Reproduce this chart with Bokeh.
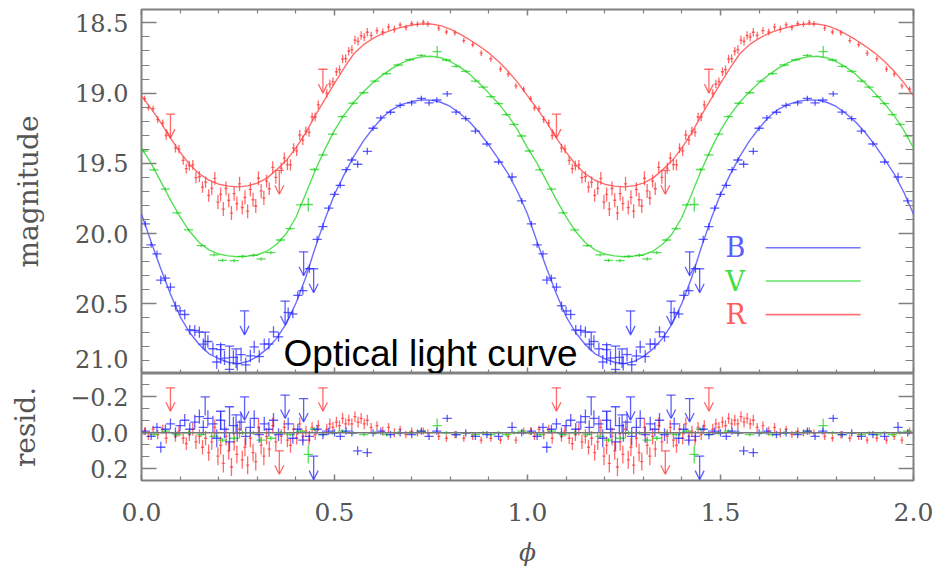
import numpy as np
from bokeh.plotting import figure
from bokeh.layouts import column
from bokeh.models import (Range1d, LinearAxis, FixedTicker, CustomJSTickFormatter,
                          ColumnDataSource, Label, Arrow, OpenHead, Span)
from bokeh.embed import file_html
from bokeh.resources import INLINE

# ---------------- data (one phase cycle, shown twice) ----------------
model_phase = [0.0, 0.025, 0.05, 0.075, 0.1, 0.125, 0.15, 0.175, 0.2, 0.225, 0.25,
               0.275, 0.3, 0.325, 0.35, 0.375, 0.4, 0.425, 0.45, 0.475, 0.5,
               0.525, 0.55, 0.575, 0.6, 0.625, 0.65, 0.675, 0.7, 0.725, 0.75,
               0.775, 0.8, 0.825, 0.85, 0.875, 0.9, 0.925, 0.95, 0.975, 1.0]

R_model = [19.02, 19.11, 19.21, 19.32, 19.42, 19.51, 19.575, 19.62, 19.648, 19.662, 19.667,
           19.66, 19.64, 19.605, 19.545, 19.48, 19.39, 19.285, 19.16, 19.045, 18.93,
           18.82, 18.72, 18.655, 18.61, 18.575, 18.55, 18.53, 18.515, 18.507, 18.508,
           18.52, 18.545, 18.58, 18.62, 18.665, 18.715, 18.775, 18.845, 18.925, 19.02]
V_model = [19.39, 19.50, 19.63, 19.76, 19.88, 19.985, 20.065, 20.115, 20.145, 20.158, 20.164,
           20.16, 20.15, 20.125, 20.075, 20.0, 19.885, 19.72, 19.55, 19.40, 19.265,
           19.155, 19.065, 18.99, 18.925, 18.87, 18.822, 18.785, 18.757, 18.742, 18.738,
           18.748, 18.775, 18.815, 18.865, 18.93, 19.0, 19.075, 19.16, 19.265, 19.39]
B_model = [19.86, 20.06, 20.25, 20.43, 20.59, 20.705, 20.79, 20.855, 20.89, 20.915, 20.925,
           20.91, 20.875, 20.82, 20.745, 20.64, 20.495, 20.315, 20.10, 19.90, 19.72,
           19.58, 19.45, 19.34, 19.25, 19.17, 19.115, 19.08, 19.06, 19.048, 19.05,
           19.065, 19.095, 19.145, 19.205, 19.28, 19.37, 19.47, 19.575, 19.705, 19.86]

R_phase = [0.008, 0.018, 0.030, 0.042, 0.055, 0.064, 0.088, 0.097, 0.108, 0.116, 0.124, 0.133,
           0.141, 0.150, 0.158, 0.166, 0.174, 0.182, 0.190, 0.198, 0.205, 0.212, 0.219, 0.226,
           0.233, 0.240, 0.247, 0.254, 0.261, 0.268, 0.275, 0.282, 0.289, 0.296, 0.303, 0.310,
           0.317, 0.324, 0.331, 0.340, 0.348, 0.362, 0.370, 0.378, 0.386, 0.394, 0.402, 0.410,
           0.418, 0.426, 0.434, 0.442, 0.450, 0.458, 0.480, 0.488, 0.496, 0.505, 0.513, 0.521,
           0.529, 0.537, 0.545, 0.553, 0.561, 0.569, 0.577, 0.585, 0.595, 0.610, 0.625, 0.640,
           0.655, 0.670, 0.685, 0.700, 0.715, 0.730, 0.742, 0.770, 0.790, 0.812, 0.835, 0.858,
           0.880, 0.905, 0.930, 0.950, 0.970, 0.990]
R_resid = [-0.01, 0.02, -0.02, 0.01, -0.02, 0.03, 0.02, -0.01, 0.03, 0.06, 0.01, -0.02,
           0.05, 0.02, 0.08, 0.03, 0.11, 0.05, -0.03, 0.13, 0.07, 0.17, 0.02, 0.10,
           0.19, 0.05, 0.12, -0.02, 0.15, 0.08, 0.18, 0.03, 0.11, 0.16, -0.03, 0.07,
           0.13, 0.02, 0.09, -0.04, 0.05, 0.02, -0.03, 0.04, 0.07, -0.02, 0.03, -0.05,
           0.02, -0.01, 0.04, -0.03, 0.01, -0.04, -0.02, -0.05, -0.03, -0.06, -0.04, -0.08,
           -0.05, -0.07, -0.05, -0.09, -0.06, -0.08, -0.05, -0.07, -0.03, -0.04, -0.01, -0.03,
           0.00, -0.02, 0.01, -0.01, 0.00, -0.01, 0.00, 0.02, 0.03, 0.01, 0.03, 0.02,
           0.04, 0.03, 0.04, 0.02, 0.04, -0.01]
R_err = [0.02, 0.02, 0.02, 0.025, 0.025, 0.03, 0.03, 0.03, 0.03, 0.035, 0.035, 0.035,
         0.04, 0.04, 0.04, 0.04, 0.045, 0.045, 0.045, 0.05, 0.05, 0.05, 0.05, 0.05,
         0.05, 0.05, 0.05, 0.05, 0.05, 0.05, 0.05, 0.05, 0.05, 0.05, 0.05, 0.05,
         0.05, 0.045, 0.045, 0.045, 0.045, 0.04, 0.04, 0.04, 0.04, 0.035, 0.035, 0.035,
         0.035, 0.03, 0.03, 0.03, 0.03, 0.03, 0.03, 0.03, 0.03, 0.03, 0.03, 0.03,
         0.03, 0.03, 0.03, 0.03, 0.03, 0.03, 0.03, 0.03, 0.025, 0.025, 0.025, 0.025,
         0.025, 0.02, 0.02, 0.02, 0.02, 0.02, 0.02, 0.02, 0.02, 0.02, 0.02, 0.02,
         0.02, 0.02, 0.02, 0.02, 0.02, 0.02]
R_xerr = 0.004
R_lim_phase = [0.075, 0.357, 0.470]
R_lim_mag = [19.15, 19.55, 18.83]
R_lim_resid = [-0.25, 0.10, -0.25]

V_phase = [0.005, 0.032, 0.062, 0.092, 0.122, 0.155, 0.188, 0.210, 0.240, 0.262, 0.290, 0.310,
           0.335, 0.360, 0.385, 0.412, 0.432, 0.448, 0.470, 0.495, 0.520, 0.548, 0.576, 0.605,
           0.635, 0.665, 0.695, 0.725, 0.766, 0.790, 0.815, 0.840, 0.865, 0.885, 0.905, 0.925,
           0.945, 0.965, 0.985]
V_resid = [0.00, 0.01, -0.01, 0.01, 0.00, 0.01, 0.02, 0.04, 0.03, 0.00, 0.00, 0.04,
           0.03, 0.00, 0.01, -0.01, 0.12, -0.02, 0.01, 0.00, -0.01, 0.00, 0.01, 0.00,
           0.01, 0.00, 0.00, -0.01, -0.04, 0.00, 0.01, 0.00, 0.01, 0.00, 0.01, 0.00,
           0.01, 0.00, -0.01]
V_err = [0.01, 0.01, 0.01, 0.01, 0.01, 0.01, 0.012, 0.012, 0.012, 0.012, 0.012, 0.012,
         0.012, 0.01, 0.01, 0.01, 0.05, 0.01, 0.01, 0.01, 0.01, 0.01, 0.01, 0.01,
         0.01, 0.01, 0.01, 0.01, 0.04, 0.01, 0.01, 0.01, 0.01, 0.01, 0.01, 0.01,
         0.01, 0.01, 0.01]
V_xerr = 0.012

B_phase = [0.010, 0.025, 0.040, 0.050, 0.062, 0.075, 0.088, 0.100, 0.112, 0.125, 0.138, 0.150,
           0.160, 0.172, 0.185, 0.195, 0.205, 0.215, 0.228, 0.238, 0.248, 0.258, 0.270, 0.282,
           0.292, 0.305, 0.318, 0.330, 0.342, 0.355, 0.380, 0.392, 0.405, 0.418, 0.435, 0.455,
           0.470, 0.485, 0.500, 0.515, 0.530, 0.545, 0.560, 0.585, 0.600, 0.620, 0.645, 0.670,
           0.700, 0.725, 0.745, 0.765, 0.792, 0.815, 0.840, 0.865, 0.895, 0.925, 0.960, 0.985]
B_resid = [-0.01, 0.02, -0.03, 0.08, -0.02, -0.05, 0.00, -0.04, -0.07, -0.02, -0.06, -0.09,
           -0.03, -0.08, -0.05, 0.03, -0.07, -0.02, 0.05, -0.04, 0.00, -0.06, 0.02, -0.03,
           -0.08, 0.01, -0.05, -0.02, -0.07, 0.01, -0.05, 0.03, -0.02, 0.04, 0.02, -0.02,
           0.01, -0.01, 0.00, 0.02, -0.01, 0.00, 0.10, 0.11, 0.00, -0.01, 0.01, 0.00,
           0.01, -0.01, 0.02, -0.01, -0.08, 0.01, 0.00, 0.02, 0.01, 0.02, -0.03, 0.00]
B_err = [0.02, 0.02, 0.025, 0.03, 0.025, 0.03, 0.03, 0.03, 0.035, 0.035, 0.04, 0.04,
         0.04, 0.045, 0.045, 0.05, 0.05, 0.05, 0.05, 0.05, 0.05, 0.05, 0.05, 0.045,
         0.045, 0.045, 0.04, 0.04, 0.04, 0.035, 0.035, 0.03, 0.03, 0.03, 0.03, 0.025,
         0.025, 0.02, 0.02, 0.02, 0.02, 0.02, 0.025, 0.025, 0.02, 0.02, 0.02, 0.02,
         0.02, 0.02, 0.02, 0.02, 0.02, 0.02, 0.02, 0.02, 0.02, 0.02, 0.03, 0.02]
B_xerr = 0.012
B_lim_phase = [0.267, 0.372, 0.420, 0.446]
B_lim_mag = [20.55, 20.48, 20.13, 20.25]
B_lim_resid = [-0.20, -0.21, -0.19, 0.13]
B_T_phase = [0.165, 0.205, 0.228, 0.245]
B_T_mag = [20.70, 20.79, 20.80, 20.82]
B_T_resid = [-0.20, -0.12, -0.145, -0.10]

x_ticks = [0.0, 0.5, 1.0, 1.5, 2.0]
mag_ticks = [18.5, 19.0, 19.5, 20.0, 20.5, 21.0]
resid_ticks = [-0.2, 0.0, 0.2]
band_names = ["B", "V", "R"]

# ---------------- styling ----------------
GRAY = "#808080"
TXT = "#555555"
SERIF = "DejaVu Serif"
PT = {"B": "#2a2aff", "V": "#22d322", "R": "#ff3a3a"}
LN = {"B": "#5c5cff", "V": "#44dd44", "R": "#ff5c5c"}

fmt = CustomJSTickFormatter(code="return (tick < -1e-9 ? '\\u2212' : '') + Math.abs(tick).toFixed(1);")
blank = CustomJSTickFormatter(code="return '';")
x_minor = [round(0.1 * i, 2) for i in range(21) if i % 5]
mag_minor = [round(18.4 + 0.1 * i, 2) for i in range(27)]
resid_minor = [round(-0.2 + i * 0.2 / 3, 4) for i in range(-2, 7) if i % 3]


def make_axis(ticks, minor, major_in, minor_in, labels, size="24px", label=None, lstand=0):
    ax = LinearAxis(ticker=FixedTicker(ticks=ticks, minor_ticks=minor),
                    formatter=fmt if labels else blank)
    ax.axis_line_color = None
    ax.major_tick_line_color = GRAY
    ax.minor_tick_line_color = GRAY
    ax.major_tick_line_width = 1.5
    ax.minor_tick_line_width = 1.2
    ax.major_tick_in = major_in
    ax.major_tick_out = 0
    ax.minor_tick_in = minor_in
    ax.minor_tick_out = 0
    if labels:
        ax.major_label_text_font = SERIF
        ax.major_label_text_font_size = size
        ax.major_label_text_color = TXT
    else:
        ax.major_label_text_font_size = "1px"
        ax.major_label_standoff = 0
    if label is not None:
        ax.axis_label = label
        ax.axis_label_text_font = SERIF
        ax.axis_label_text_font_style = "normal"
        ax.axis_label_text_font_size = "28px"
        ax.axis_label_text_color = TXT
        ax.axis_label_standoff = lstand
    return ax


xr = Range1d(0, 2)
common = dict(frame_width=772, x_range=xr, x_axis_location=None, y_axis_location=None,
              output_backend="svg", toolbar_location=None,
              min_border_left=141, min_border_right=24)

top = figure(frame_height=364, y_range=Range1d(20.995, 18.405),
             min_border_top=9, min_border_bottom=0, **common)
bot = figure(frame_height=107, y_range=Range1d(0.265, -0.33),
             min_border_top=0, min_border_bottom=0, **common)

for p in (top, bot):
    p.outline_line_color = GRAY
    p.outline_line_width = 2
    p.grid.visible = False

# top panel: tick marks on all four sides; numbers on an outer label-only axis.
top.add_layout(make_axis(mag_ticks, mag_minor, 15, 8, False), "left")
# the last label (21.0) sits just above the panel's bottom edge, as in the original
label_pos = mag_ticks[:-1] + [20.89]
label_txt = ["%.1f" % t for t in mag_ticks]
lab_fmt = CustomJSTickFormatter(args=dict(pos=label_pos, txt=label_txt), code="""
    for (let i = 0; i < pos.length; i++) { if (Math.abs(pos[i] - tick) < 1e-6) return txt[i]; }
    return '';
""")
lab_ax = LinearAxis(ticker=FixedTicker(ticks=label_pos, minor_ticks=[]), formatter=lab_fmt)
lab_ax.axis_line_color = None
lab_ax.major_tick_line_color = None
lab_ax.minor_tick_line_color = None
lab_ax.major_tick_in = 0
lab_ax.major_tick_out = 0
lab_ax.major_label_standoff = 13
lab_ax.major_label_text_font = SERIF
lab_ax.major_label_text_font_size = "24px"
lab_ax.major_label_text_color = TXT
lab_ax.axis_label = "magnitude"
lab_ax.axis_label_text_font = SERIF
lab_ax.axis_label_text_font_style = "normal"
lab_ax.axis_label_text_font_size = "28px"
lab_ax.axis_label_text_color = TXT
lab_ax.axis_label_standoff = 27
top.add_layout(lab_ax, "left")
top.add_layout(make_axis(mag_ticks, mag_minor, 15, 8, False), "right")
top.add_layout(make_axis(x_ticks, x_minor, 6, 4, False), "above")
top.add_layout(make_axis(x_ticks, x_minor, 6, 4, False), "below")

ax = make_axis(resid_ticks, resid_minor, 15, 8, True, label="resid.", lstand=25)
ax.major_label_standoff = 13
bot.add_layout(ax, "left")
bot.add_layout(make_axis(resid_ticks, resid_minor, 15, 8, False), "right")
ax = make_axis(x_ticks, x_minor, 6, 4, True, size="25px", label="\u03d5", lstand=14)
ax.axis_label_text_font_style = "italic"
ax.axis_label_text_font_size = "25px"
ax.major_label_standoff = 22
bot.add_layout(ax, "below")

bot.add_layout(Span(location=0, dimension="width", line_color="#777777", line_width=1.5))

bands = {
    "R": (R_model, R_phase, R_resid, R_err, R_xerr),
    "V": (V_model, V_phase, V_resid, V_err, V_xerr),
    "B": (B_model, B_phase, B_resid, B_err, B_xerr),
}
limits = {
    "R": [(R_lim_phase, R_lim_mag, R_lim_resid, True)],
    "B": [(B_T_phase, B_T_mag, B_T_resid, False), (B_lim_phase, B_lim_mag, B_lim_resid, True)],
}
ARROW_TOP = 0.17
ARROW_BOT = 0.13
CAP = 0.012

for band in ["R", "V", "B"]:
    model, ph, rs, er, xe = bands[band]
    ph = np.array(ph)
    rs = np.array(rs)
    er = np.array(er)
    mag = np.interp(ph, model_phase, model) + rs
    c = PT[band]
    for k in (0, 1):
        mp = np.array(model_phase) + k
        top.line(mp, model, line_color=LN[band], line_width=1.4, line_alpha=0.9)
        x = ph + k
        for p, y in ((top, mag), (bot, rs)):
            p.segment(x0=x, y0=y - er, x1=x, y1=y + er, line_color=c, line_width=1.3, line_alpha=0.75)
            p.segment(x0=x - xe, y0=y, x1=x + xe, y1=y, line_color=c, line_width=1.3, line_alpha=0.75)
        for lph, lmag, lres, arrow in limits.get(band, []):
            lx = np.array(lph) + k
            for p, y0, L in ((top, np.array(lmag), ARROW_TOP), (bot, np.array(lres), ARROW_BOT)):
                p.segment(x0=lx - CAP, y0=y0, x1=lx + CAP, y1=y0, line_color=c, line_width=1.3, line_alpha=0.75)
                if arrow:
                    src = ColumnDataSource(dict(x=lx, y0=y0, y1=y0 + L))
                    p.add_layout(Arrow(x_start="x", y_start="y0", x_end="x", y_end="y1", source=src,
                                       line_color=c, line_width=1.3, line_alpha=0.75,
                                       end=OpenHead(size=9, line_color=c, line_width=1.3, line_alpha=0.75)))
                else:
                    p.segment(x0=lx, y0=y0, x1=lx, y1=y0 + L * 0.8, line_color=c, line_width=1.3, line_alpha=0.75)

# legend (label on the left, line sample on the right)
leg_y = [20.10, 20.337, 20.576]
for name, y in zip(band_names, leg_y):
    top.add_layout(Label(x=1.513, y=y, text=name, text_font=SERIF, text_font_size="27px",
                         text_color=LN[name], text_baseline="middle"))
    top.segment(x0=[1.617], y0=[y], x1=[1.863], y1=[y], line_color=LN[name], line_width=1.6, line_alpha=0.85)

top.add_layout(Label(x=0.368, y=20.855, text="Optical light curve", text_font="Liberation Sans",
                     text_font_size="37px", text_color="black", text_baseline="alphabetic"))

layout = column(top, bot, spacing=0)
open("out.html", "w").write(file_html(layout, INLINE))
